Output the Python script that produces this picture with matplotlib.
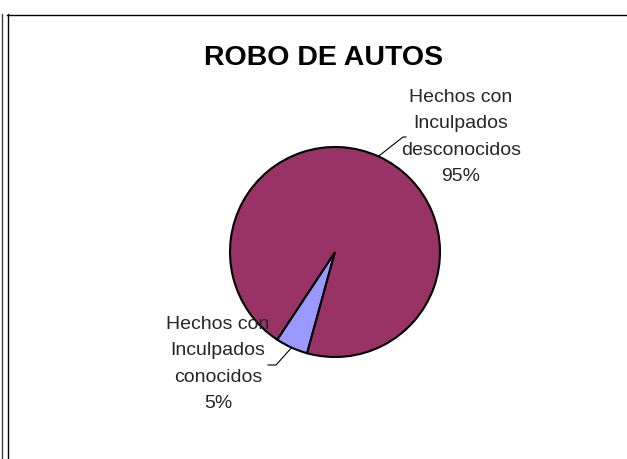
import numpy as np
import matplotlib
matplotlib.use("Agg")
import matplotlib.pyplot as plt
from matplotlib.lines import Line2D

# datos
categorias = ["Hechos con\nInculpados\nconocidos", "Hechos con\nInculpados\ndesconocidos"]
valores = [5, 95]
colores = ["#9999FF", "#993366"]
titulo = "ROBO DE AUTOS"

W, H = 627, 459
cx, cy, r = 335, 252, 105  # centro y radio del pastel en pixeles

fig = plt.figure(figsize=(W / 100, H / 100), dpi=100)
ax = fig.add_axes([0, 0, 1, 1])

wedges, _ = ax.pie(valores, colors=colores, startangle=254.6, counterclock=False,
                   radius=1, center=(0, 0), frame=True,
                   wedgeprops=dict(edgecolor="black", linewidth=1.5))
ax.set_xlim(-cx / r, (W - cx) / r)
ax.set_ylim((cy - H) / r, cy / r)
ax.set_aspect("equal")
ax.axis("off")

fuente = ["Liberation Sans", "DejaVu Sans"]
total = sum(valores)
# posiciones de etiquetas (pixeles de la imagen) y codo de la linea guia
etq_pos = [(218, 364), (461, 137)]
codo = [((276, 365), (268, 365)), ((403, 137), (406, 137))]

for w, cat, v, (px, py), (c1, c2) in zip(wedges, categorias, valores, etq_pos, codo):
    ang = np.deg2rad((w.theta1 + w.theta2) / 2)
    x0, y0 = np.cos(ang), np.sin(ang)
    pts = [(x0, y0), ((c1[0] - cx) / r, (cy - c1[1]) / r), ((c2[0] - cx) / r, (cy - c2[1]) / r)]
    ax.plot([p[0] for p in pts], [p[1] for p in pts], color="black", lw=0.8)
    ax.text((px - cx) / r, (cy - py) / r, f"{cat}\n{round(100 * v / total)}%",
            ha="center", va="center", fontsize=14, family=fuente,
            color="#262626", linespacing=1.7, zorder=5)

fig.text(324 / W, 1 - 58 / H, titulo, ha="center", va="center",
         fontsize=20.5, fontweight="bold", family=fuente)

# marco
def px_line(xs, ys, **kw):
    fig.add_artist(Line2D([x / W for x in xs], [1 - y / H for y in ys],
                          transform=fig.transFigure, **kw))

px_line([1.5, 1.5], [14, H], color="#404040", lw=1.0)
px_line([7.5, 7.5], [14, H], color="black", lw=1.0)
px_line([7, W], [14.5, 14.5], color="black", lw=1.0)

fig.savefig("out.png", dpi=100)
